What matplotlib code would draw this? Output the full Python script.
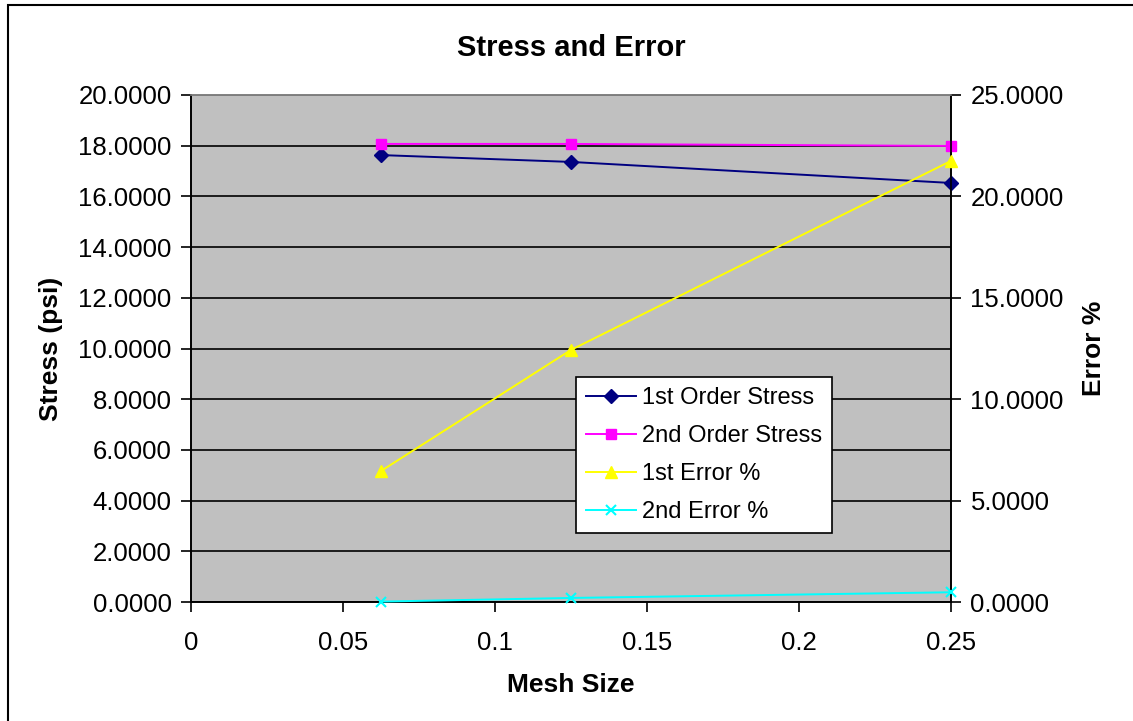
import matplotlib.pyplot as plt
from matplotlib.patches import Rectangle
from matplotlib.ticker import FormatStrFormatter

plt.rcParams["font.family"] = ["Liberation Sans", "DejaVu Sans"]

mesh_size = [0.0625, 0.125, 0.25]
stress_1st = [17.63, 17.36, 16.53]
stress_2nd = [18.07, 18.07, 17.99]
error_1st = [6.46, 12.43, 21.75]
error_2nd = [0.02, 0.20, 0.48]

fig = plt.figure(figsize=(11.33, 7.21), dpi=100)
# outer chart frame (only left/top edges visible in the reference crop)
fig.patches.append(Rectangle((8 / 1133, -0.1), 1.2, (721 - 5) / 721 + 0.1,
                             transform=fig.transFigure, fill=False,
                             edgecolor="black", linewidth=1.5))

ax = fig.add_axes([191 / 1133, 119 / 721, 760 / 1133, 507 / 721])
ax.set_facecolor("#C0C0C0")
ax2 = ax.twinx()

l1, = ax.plot(mesh_size, stress_1st, color="#000080", marker="D", markersize=7,
              linewidth=1.4, label="1st Order Stress", clip_on=False, zorder=5)
l2, = ax.plot(mesh_size, stress_2nd, color="#FF00FF", marker="s", markersize=7,
              linewidth=1.4, label="2nd Order Stress", clip_on=False, zorder=5)
l3, = ax2.plot(mesh_size, error_1st, color="#FFFF00", marker="^", markersize=9,
               linewidth=1.4, label="1st Error %", clip_on=False, zorder=5)
l4, = ax2.plot(mesh_size, error_2nd, color="#00FFFF", marker="x", markersize=7,
               markeredgewidth=1.5, linewidth=1.4, label="2nd Error %",
               clip_on=False, zorder=5)

ax.set_xlim(0, 0.25)
ax.set_ylim(0, 20)
ax2.set_ylim(0, 25)
ax.set_xticks([0, 0.05, 0.1, 0.15, 0.2, 0.25])
ax.set_xticklabels(["0", "0.05", "0.1", "0.15", "0.2", "0.25"])
ax.set_yticks(range(0, 21, 2))
ax2.set_yticks(range(0, 26, 5))
ax.yaxis.set_major_formatter(FormatStrFormatter("%.4f"))
ax2.yaxis.set_major_formatter(FormatStrFormatter("%.4f"))

ax.yaxis.grid(True, color="black", linewidth=1.2)
ax.set_axisbelow(True)

for a in (ax, ax2):
    a.tick_params(direction="out", length=7, width=1.2, labelsize=18.5, pad=7,
                  colors="black")
    for s in a.spines.values():
        s.set_linewidth(1.2)
    a.spines["top"].set_color("#808080")
ax.tick_params(axis="x", pad=14)

ax.set_title("Stress and Error", fontsize=21, fontweight="bold", pad=28)
ax.set_xlabel("Mesh Size", fontsize=19, fontweight="bold", labelpad=13)
ax.set_ylabel("Stress (psi)", fontsize=19, fontweight="bold", labelpad=11)
ax2.set_ylabel("Error %", fontsize=19, fontweight="bold", labelpad=13)

leg = ax2.legend(handles=[l1, l2, l3, l4], loc="upper left",
                 bbox_to_anchor=(0.507, 0.444), borderaxespad=0, fontsize=17,
                 frameon=True, fancybox=False, framealpha=1, edgecolor="black",
                 handlelength=2.1, handletextpad=0.25, labelspacing=0.68,
                 borderpad=0.42)
leg.get_frame().set_linewidth(1.2)

fig.savefig("out.png", dpi=100)
